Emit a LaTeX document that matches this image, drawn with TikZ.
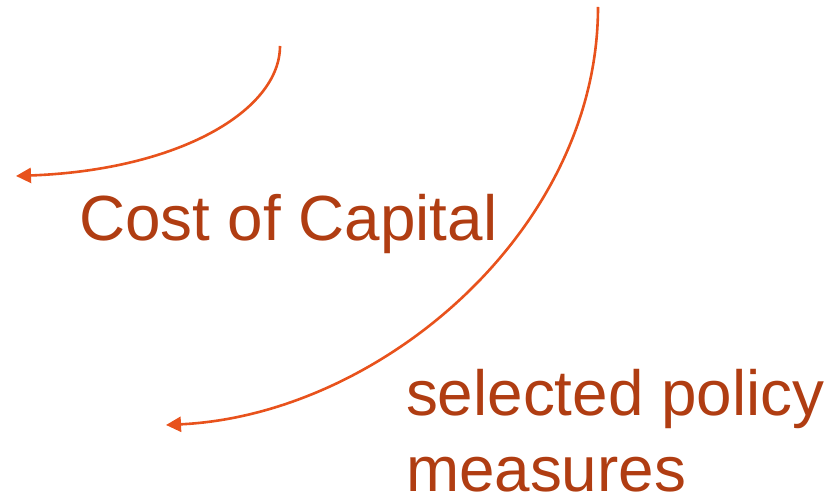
\documentclass[tikz,border=0pt]{standalone}
\usepackage{fontspec}
\setmainfont{Liberation Sans}
\usetikzlibrary{arrows.meta}
\definecolor{txtcol}{HTML}{B03D12}
\definecolor{arrcol}{HTML}{E8521C}
\tikzset{
  label/.style={inner sep=0pt, outer sep=0pt, text=txtcol, font=\fontsize{63.8}{76}\selectfont, align=left},
  curvearrow/.style={draw=arrcol, line width=2.6pt, -{Triangle[length=15pt,width=15pt]}}
}
\begin{document}
\begin{tikzpicture}[x=1pt,y=1pt]
\useasboundingbox (0,0) rectangle (835,495);
\node[label, anchor=base west] (coc) at (79,254) {Cost of Capital};
\node[label, anchor=north west] (spm) at (406,125.5) {selected policy\\measures};
\coordinate (s1) at (280,449);
\coordinate (e1) at (16,319);
\coordinate (s2) at (598,488);
\coordinate (e2) at (166,70);
\draw[curvearrow] (s1) .. controls (280,385) and (180,325) .. (e1);
\draw[curvearrow] (s2) .. controls (598,265) and (380,80) .. (e2);
\end{tikzpicture}
\end{document}
